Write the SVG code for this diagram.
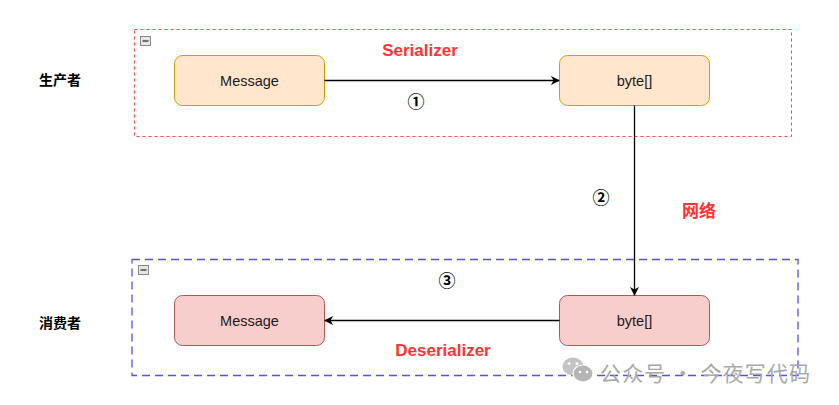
<svg xmlns="http://www.w3.org/2000/svg" width="839" height="405" viewBox="0 0 839 405">
<style>
.lbl{font-family:"Liberation Sans",Arial,sans-serif;font-size:14.5px;fill:#1a1a1a;text-anchor:middle;dominant-baseline:central}
.red{font-family:"Liberation Sans",Arial,sans-serif;font-size:17px;font-weight:bold;fill:#ff3333;text-anchor:middle;dominant-baseline:central}
.cjk{font-family:"Liberation Sans","Noto Sans CJK SC",sans-serif;font-size:14px;font-weight:bold;fill:#000;text-anchor:middle;dominant-baseline:central}
.num{font-family:"Noto Sans CJK SC","DejaVu Sans",sans-serif;font-size:17px;font-weight:bold;fill:#000;text-anchor:middle;dominant-baseline:central}
.prod{fill:#ffe6cc;stroke:#d79b00;stroke-width:1}
.cons{fill:#f8cecc;stroke:#b85450;stroke-width:1}
.edge{fill:none;stroke:#000;stroke-width:1.3}
.tog{fill:#e6e6e6;stroke:#888;stroke-width:1}
</style>
<defs>
<marker id="arr" viewBox="0 0 10 10" refX="9" refY="5" markerWidth="9" markerHeight="9" orient="auto" markerUnits="userSpaceOnUse">
<path d="M0,0 L10,5 L0,10 L3,5 Z" fill="#000"/>
</marker>
</defs>
<rect width="839" height="405" fill="#fff"/>
<g id="group-producer">
<rect x="134.5" y="29.5" width="657" height="107" fill="none" stroke="#ff4444" stroke-width="1" stroke-dasharray="3 3"/>
<rect class="tog" x="140.5" y="36.5" width="10" height="9"/>
<line x1="142.5" y1="41" x2="148.5" y2="41" stroke="#333" stroke-width="1.3"/>
</g>
<g id="group-consumer">
<rect x="132" y="259.5" width="666" height="116" fill="none" stroke="#5050ff" stroke-width="1.3" stroke-dasharray="8 5"/>
<rect class="tog" x="138.5" y="265.5" width="10" height="9"/>
<line x1="140.5" y1="270" x2="146.5" y2="270" stroke="#333" stroke-width="1.3"/>
</g>
<g id="label-producer"><text class="cjk" x="60" y="80">生产者</text></g>
<g id="label-consumer"><text class="cjk" x="60" y="323">消费者</text></g>
<g id="node-msg-top"><rect class="prod" x="174.5" y="55.5" width="150" height="50" rx="8"/><text class="lbl" x="249.5" y="80.5">Message</text></g>
<g id="node-byte-top"><rect class="prod" x="559.5" y="55.5" width="150" height="50" rx="8"/><text class="lbl" x="634.5" y="80.5">byte[]</text></g>
<g id="node-byte-bottom"><rect class="cons" x="559.5" y="295.5" width="150" height="50" rx="8"/><text class="lbl" x="634.5" y="320.5">byte[]</text></g>
<g id="node-msg-bottom"><rect class="cons" x="174.5" y="295.5" width="150" height="50" rx="8"/><text class="lbl" x="249.5" y="320.5">Message</text></g>
<g id="connectors">
<line class="edge" x1="324.5" y1="80.5" x2="559" y2="80.5" marker-end="url(#arr)"/>
<line class="edge" x1="634.5" y1="105.5" x2="634.5" y2="295" marker-end="url(#arr)"/>
<line class="edge" x1="559.5" y1="320.5" x2="325" y2="320.5" marker-end="url(#arr)"/>
</g>
<g id="labels">
<text class="red" x="420" y="50">Serializer</text>
<text class="num" x="416" y="100">①</text>
<text class="num" x="601" y="196">②</text>
<text class="red" x="699" y="209" style="font-family:'Noto Sans CJK SC',sans-serif">网络</text>
<text class="num" x="447" y="279">③</text>
<text class="red" x="443" y="350">Deserializer</text>
</g>
<g id="watermark">
<ellipse cx="573" cy="366.5" rx="10.5" ry="9" fill="#c4c4c4"/>
<ellipse cx="583" cy="373.5" rx="10" ry="8.5" fill="#b5b5b5" stroke="#fff" stroke-width="1.2"/>
<circle cx="569" cy="363.5" r="1.5" fill="#fff"/>
<circle cx="577" cy="363.5" r="1.5" fill="#fff"/>
<circle cx="580" cy="372" r="1.3" fill="#fff"/>
<circle cx="587" cy="372" r="1.3" fill="#fff"/>
<text x="600" y="372" textLength="210" lengthAdjust="spacing" style="font-family:'Noto Sans CJK SC',sans-serif;font-size:21px;fill:#a8a8a8;dominant-baseline:central">公众号 · 今夜写代码</text>
</g>
</svg>
